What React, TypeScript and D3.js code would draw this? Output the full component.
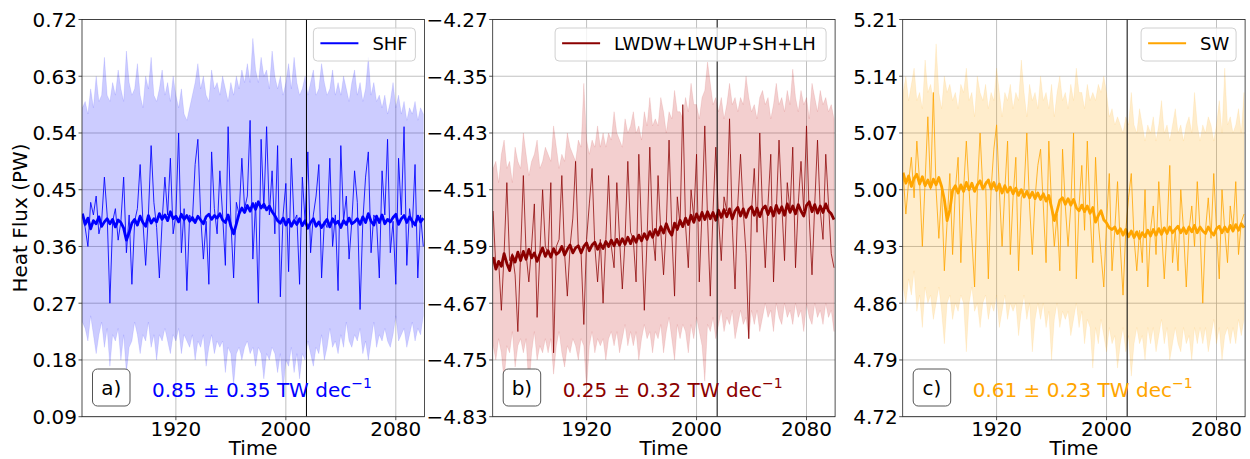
import React from 'react';
import * as d3 from 'd3';

// ---------------- DATA ----------------
const YEAR0 = 1852;
const YEAR_STEP = 2;
const xTicks = [1920, 2000, 2080];
const markerYear = 2015;

const shfTicks = [0.09, 0.18, 0.27, 0.36, 0.45, 0.54, 0.63, 0.72];
const lwTicks = [-4.83, -4.75, -4.67, -4.59, -4.51, -4.43, -4.35, -4.27];
const swTicks = [4.72, 4.79, 4.86, 4.93, 5.0, 5.07, 5.14, 5.21];

const shfMean = [
  0.412, 0.395, 0.405, 0.388, 0.401, 0.396, 0.407, 0.392, 0.399, 0.404,
  0.396, 0.403, 0.391, 0.402, 0.398, 0.389, 0.37, 0.382, 0.397, 0.403,
  0.394, 0.408, 0.398, 0.392, 0.409, 0.397, 0.404, 0.399, 0.412, 0.403,
  0.41, 0.401, 0.415, 0.404, 0.408, 0.399, 0.411, 0.403, 0.409, 0.4,
  0.406, 0.398, 0.408, 0.402, 0.396, 0.407, 0.411, 0.403, 0.409, 0.405,
  0.412, 0.402, 0.398, 0.41, 0.392, 0.38, 0.396, 0.412, 0.421, 0.414,
  0.425, 0.416, 0.428, 0.419, 0.431, 0.421, 0.427, 0.418, 0.424, 0.415,
  0.409, 0.401, 0.397, 0.405, 0.394, 0.403, 0.392, 0.401, 0.395, 0.404,
  0.393, 0.401, 0.389, 0.398, 0.404, 0.392, 0.399, 0.39, 0.397, 0.403,
  0.391, 0.404, 0.396, 0.4, 0.39, 0.401, 0.395, 0.405, 0.396, 0.399,
  0.404, 0.395, 0.407, 0.398, 0.412, 0.4, 0.394, 0.408, 0.398, 0.41,
  0.396, 0.403, 0.399, 0.406, 0.411, 0.395, 0.404, 0.409, 0.398, 0.407,
  0.4, 0.394, 0.408, 0.399, 0.405,
];
const shfMember = [
  0.41, 0.39, 0.36, 0.43, 0.41, 0.44, 0.38, 0.4, 0.47, 0.41,
  0.27, 0.4, 0.42, 0.37, 0.4, 0.47, 0.35, 0.41, 0.3, 0.4,
  0.42, 0.49, 0.4, 0.33, 0.41, 0.52, 0.43, 0.39, 0.31, 0.4,
  0.47, 0.41, 0.5, 0.38, 0.41, 0.54, 0.35, 0.42, 0.29, 0.41,
  0.4, 0.49, 0.53, 0.41, 0.34, 0.4, 0.3, 0.51, 0.42, 0.38,
  0.48, 0.41, 0.33, 0.55, 0.4, 0.31, 0.43, 0.41, 0.5, 0.42,
  0.44, 0.56, 0.34, 0.43, 0.27, 0.53, 0.42, 0.55, 0.41, 0.48,
  0.38, 0.52, 0.28, 0.41, 0.46, 0.32, 0.5, 0.4, 0.41, 0.3,
  0.47, 0.4, 0.51, 0.35, 0.41, 0.44, 0.49, 0.31, 0.4, 0.39,
  0.5, 0.36, 0.41, 0.29, 0.52, 0.4, 0.44, 0.34, 0.4, 0.48,
  0.43, 0.26, 0.4, 0.47, 0.51, 0.35, 0.41, 0.4, 0.31, 0.48,
  0.41, 0.53, 0.35, 0.4, 0.3, 0.5, 0.41, 0.55, 0.33, 0.42,
  0.39, 0.49, 0.31, 0.41, 0.36,
];
const shfUpper = [
  0.58, 0.59, 0.57, 0.61, 0.58, 0.63, 0.59, 0.6, 0.66, 0.6,
  0.59, 0.62, 0.6, 0.64, 0.61, 0.59, 0.67, 0.62, 0.6, 0.61,
  0.65, 0.6, 0.58, 0.63, 0.61, 0.66, 0.6, 0.59, 0.61, 0.64,
  0.6, 0.62, 0.59, 0.63, 0.6, 0.58, 0.61, 0.57, 0.56, 0.58,
  0.6, 0.62, 0.65, 0.61, 0.63, 0.6, 0.59, 0.64, 0.61, 0.62,
  0.6, 0.63, 0.61, 0.59, 0.62, 0.6, 0.63, 0.61, 0.64, 0.62,
  0.65, 0.62, 0.69, 0.64, 0.62, 0.66, 0.63, 0.64, 0.61, 0.67,
  0.63, 0.61, 0.63, 0.6, 0.62, 0.65, 0.61, 0.66, 0.62, 0.6,
  0.61, 0.63, 0.6, 0.62, 0.64, 0.6, 0.61, 0.65, 0.62, 0.6,
  0.61, 0.64, 0.6, 0.62, 0.6, 0.63, 0.61, 0.59, 0.62, 0.64,
  0.6, 0.62, 0.59, 0.61, 0.66, 0.6, 0.62, 0.59, 0.6, 0.58,
  0.6, 0.57, 0.59, 0.62, 0.58, 0.6, 0.57, 0.59, 0.56, 0.58,
  0.57, 0.59, 0.56, 0.58, 0.57,
];
const shfLower = [
  0.24, 0.23, 0.21, 0.25, 0.22, 0.19, 0.22, 0.24, 0.2, 0.23,
  0.17, 0.22, 0.21, 0.23, 0.18, 0.22, 0.16, 0.2, 0.21, 0.24,
  0.22, 0.19, 0.22, 0.21, 0.24, 0.2, 0.22, 0.18, 0.22, 0.21,
  0.23, 0.21, 0.19, 0.22, 0.21, 0.23, 0.19, 0.22, 0.21, 0.2,
  0.22, 0.18, 0.21, 0.2, 0.22, 0.17, 0.2, 0.22, 0.19, 0.21,
  0.2, 0.21, 0.16, 0.2, 0.19, 0.14, 0.19, 0.2, 0.18, 0.2,
  0.21, 0.19, 0.2, 0.17, 0.2, 0.19, 0.15, 0.19, 0.18, 0.2,
  0.19, 0.16, 0.19, 0.13, 0.18, 0.17, 0.2, 0.16, 0.19, 0.15,
  0.19, 0.18, 0.21, 0.19, 0.17, 0.2, 0.19, 0.22, 0.18, 0.2,
  0.23, 0.2, 0.21, 0.19, 0.22, 0.2, 0.24, 0.21, 0.2, 0.22,
  0.21, 0.23, 0.19, 0.21, 0.18, 0.21, 0.24, 0.2, 0.22, 0.21,
  0.23, 0.21, 0.2, 0.22, 0.25, 0.21, 0.22, 0.23, 0.2, 0.22,
  0.24, 0.21, 0.23, 0.22, 0.25,
];

const lwMean = [
  -4.605, -4.622, -4.611, -4.618, -4.6, -4.614, -4.624, -4.603, -4.612, -4.598,
  -4.61, -4.597, -4.608, -4.594, -4.606, -4.599, -4.611, -4.601, -4.592, -4.604,
  -4.596, -4.605, -4.593, -4.601, -4.598, -4.59, -4.602, -4.594, -4.588, -4.599,
  -4.592, -4.589, -4.599, -4.59, -4.585, -4.596, -4.588, -4.584, -4.594, -4.586,
  -4.593, -4.583, -4.59, -4.581, -4.589, -4.58, -4.588, -4.579, -4.587, -4.577,
  -4.586, -4.576, -4.584, -4.574, -4.582, -4.572, -4.58, -4.569, -4.577, -4.566,
  -4.574, -4.562, -4.571, -4.558, -4.568, -4.574, -4.557, -4.566, -4.553, -4.562,
  -4.55, -4.559, -4.546, -4.556, -4.544, -4.553, -4.542, -4.552, -4.541, -4.551,
  -4.542, -4.553, -4.539, -4.549, -4.538, -4.548, -4.537, -4.551, -4.54, -4.535,
  -4.547, -4.537, -4.549, -4.538, -4.534, -4.546, -4.536, -4.548, -4.537, -4.533,
  -4.545, -4.535, -4.547, -4.532, -4.543, -4.534, -4.546, -4.53, -4.542, -4.533,
  -4.544, -4.531, -4.54, -4.547, -4.532, -4.527, -4.541, -4.531, -4.543, -4.533,
  -4.542, -4.53, -4.54, -4.544, -4.552,
];
const lwMember = [
  -4.54, -4.62, -4.61, -4.68, -4.6, -4.5, -4.61, -4.6, -4.63, -4.71,
  -4.6, -4.49, -4.6, -4.64, -4.59, -4.53, -4.69, -4.6, -4.51, -4.59,
  -4.6, -4.5, -4.74, -4.59, -4.58, -4.49, -4.6, -4.66, -4.59, -4.55,
  -4.47, -4.59, -4.6, -4.7, -4.58, -4.53, -4.48, -4.59, -4.64, -4.58,
  -4.67, -4.58, -4.49, -4.59, -4.62, -4.5, -4.58, -4.65, -4.58, -4.47,
  -4.57, -4.58, -4.64, -4.46, -4.57, -4.68, -4.58, -4.45, -4.57, -4.61,
  -4.49, -4.57, -4.63, -4.56, -4.44, -4.57, -4.66, -4.52, -4.56, -4.39,
  -4.56, -4.62, -4.51, -4.55, -4.46, -4.64, -4.54, -4.42, -4.55, -4.66,
  -4.54, -4.45, -4.55, -4.61, -4.52, -4.54, -4.41, -4.56, -4.65, -4.53,
  -4.46, -4.54, -4.6, -4.72, -4.54, -4.48, -4.57, -4.43, -4.54, -4.62,
  -4.53, -4.46, -4.64, -4.54, -4.44, -4.53, -4.61, -4.5, -4.54, -4.45,
  -4.62, -4.53, -4.47, -4.54, -4.42, -4.55, -4.63, -4.53, -4.44, -4.54,
  -4.58, -4.46, -4.53, -4.6, -4.62,
];
const lwUpper = [
  -4.48, -4.47, -4.5, -4.46, -4.44, -4.48, -4.47, -4.5, -4.45, -4.47,
  -4.48, -4.43, -4.46, -4.49, -4.47, -4.46, -4.44, -4.48, -4.47, -4.45,
  -4.46, -4.47, -4.42, -4.45, -4.48, -4.46, -4.47, -4.43, -4.45, -4.46,
  -4.47, -4.44, -4.45, -4.36, -4.44, -4.46, -4.44, -4.45, -4.42, -4.45,
  -4.43, -4.45, -4.43, -4.44, -4.4, -4.43, -4.44, -4.45, -4.41, -4.43,
  -4.42, -4.4, -4.43, -4.42, -4.44, -4.4, -4.42, -4.38, -4.42, -4.41,
  -4.42, -4.38, -4.4, -4.43, -4.4, -4.41, -4.37, -4.4, -4.4, -4.41,
  -4.38, -4.4, -4.36, -4.39, -4.39, -4.41, -4.38, -4.37, -4.33, -4.36,
  -4.39, -4.38, -4.4, -4.38, -4.41, -4.39, -4.36, -4.39, -4.38, -4.4,
  -4.38, -4.39, -4.35, -4.38, -4.4, -4.39, -4.41, -4.38, -4.37, -4.39,
  -4.38, -4.41, -4.39, -4.36, -4.39, -4.38, -4.4, -4.37, -4.39, -4.34,
  -4.38, -4.4, -4.37, -4.39, -4.38, -4.41, -4.36, -4.38, -4.4, -4.37,
  -4.39, -4.38, -4.4, -4.39, -4.41,
];
const lwLower = [
  -4.73, -4.75, -4.72, -4.74, -4.78, -4.73, -4.74, -4.71, -4.76, -4.73,
  -4.72, -4.74, -4.72, -4.79, -4.74, -4.71, -4.75, -4.73, -4.74, -4.72,
  -4.74, -4.72, -4.77, -4.73, -4.71, -4.74, -4.76, -4.73, -4.74, -4.72,
  -4.73, -4.75, -4.72, -4.73, -4.79, -4.73, -4.71, -4.74, -4.72, -4.73,
  -4.72, -4.75, -4.72, -4.71, -4.73, -4.71, -4.74, -4.72, -4.7, -4.73,
  -4.71, -4.73, -4.71, -4.75, -4.72, -4.7, -4.72, -4.71, -4.74, -4.71,
  -4.72, -4.7, -4.74, -4.71, -4.69, -4.72, -4.75, -4.7, -4.72, -4.7,
  -4.71, -4.74, -4.7, -4.72, -4.69, -4.71, -4.73, -4.78, -4.7, -4.71,
  -4.69, -4.72, -4.7, -4.68, -4.71, -4.69, -4.7, -4.68, -4.72, -4.7,
  -4.68, -4.7, -4.69, -4.72, -4.68, -4.7, -4.68, -4.71, -4.69, -4.67,
  -4.69, -4.68, -4.71, -4.67, -4.69, -4.7, -4.67, -4.69, -4.68, -4.7,
  -4.67, -4.69, -4.68, -4.71, -4.67, -4.69, -4.7, -4.67, -4.69, -4.68,
  -4.7, -4.67, -4.69, -4.68, -4.71,
];

const swMean = [
  5.021, 5.008, 5.017, 5.004, 5.014, 5.019, 5.007, 5.016, 5.005, 5.012,
  5.003, 5.013, 5.006, 5.015, 5.004, 4.988, 4.962, 4.975, 4.999, 5.005,
  4.996, 5.006, 4.998, 5.009, 5.0, 5.008, 4.998, 5.006, 5.011, 5.001,
  5.007, 5.012, 5.001, 5.009, 4.999, 5.007, 4.996, 5.005, 4.997, 5.003,
  4.995, 5.002, 4.993, 5.0, 4.991, 4.998, 4.99, 4.997, 4.989, 4.996,
  4.988, 4.995, 4.986, 4.993, 4.978, 4.962, 4.974, 4.987, 4.99, 4.982,
  4.989, 4.981, 4.988, 4.978, 4.974, 4.981, 4.973, 4.98, 4.971, 4.978,
  4.96, 4.968, 4.974, 4.963, 4.959, 4.953, 4.951, 4.954, 4.946, 4.952,
  4.944, 4.951, 4.942, 4.949, 4.941, 4.948, 4.94, 4.947, 4.942, 4.95,
  4.943, 4.951, 4.944, 4.952, 4.945, 4.953, 4.946, 4.954, 4.947, 4.951,
  4.955, 4.947, 4.953, 4.946, 4.954, 4.948, 4.956, 4.947, 4.954, 4.949,
  4.946, 4.954, 4.948, 4.944, 4.952, 4.955, 4.947, 4.954, 4.948, 4.956,
  4.949, 4.957, 4.95, 4.958, 4.953,
];
const swMember = [
  5.02, 4.97, 5.01, 5.04, 4.99, 5.06, 5.01, 4.93, 5.01, 5.09,
  5.0, 5.12, 5.0, 4.94, 5.0, 4.9, 4.96, 5.02, 4.92, 5.0,
  5.04, 4.91, 5.0, 5.06, 5.0, 4.94, 4.88, 5.0, 5.07, 5.0,
  5.01, 4.89, 5.0, 5.05, 5.08, 5.0, 4.93, 5.0, 5.06, 4.92,
  4.99, 5.04, 4.9, 4.99, 5.0, 5.07, 4.98, 4.92, 4.99, 5.03,
  5.05, 4.98, 4.91, 5.06, 4.98, 4.93, 4.97, 4.9, 5.05, 4.98,
  4.93, 4.98, 5.07, 4.89, 4.98, 5.03, 4.95, 5.06, 4.97, 4.91,
  5.04, 4.96, 4.92, 4.88, 4.96, 5.02, 4.9, 4.95, 5.01, 4.93,
  4.87, 4.95, 4.99, 5.02, 4.94, 4.9, 4.95, 4.91, 5.0, 4.88,
  4.95, 4.98, 4.92, 5.01, 4.95, 4.89, 4.95, 5.03, 4.91, 4.95,
  4.9, 5.0, 4.95, 4.88, 4.95, 4.98, 4.93, 5.01, 4.95, 4.86,
  4.95, 4.99, 4.94, 5.02, 4.95, 4.89, 5.0, 4.95, 4.91, 4.98,
  4.95, 5.01, 4.92, 4.96, 4.97,
];
const swUpper = [
  5.12, 5.14, 5.11, 5.13, 5.15, 5.11, 5.12, 5.1, 5.16, 5.12,
  5.13, 5.11, 5.18, 5.12, 5.1, 5.14, 5.12, 5.13, 5.11, 5.12,
  5.1, 5.13, 5.12, 5.15, 5.11, 5.12, 5.09, 5.14, 5.12, 5.11,
  5.13, 5.1, 5.12, 5.11, 5.15, 5.12, 5.09, 5.12, 5.11, 5.13,
  5.1, 5.12, 5.11, 5.16, 5.12, 5.09, 5.13, 5.11, 5.12, 5.1,
  5.14, 5.11, 5.12, 5.1, 5.13, 5.09, 5.12, 5.14, 5.11, 5.12,
  5.1, 5.13, 5.11, 5.15, 5.12, 5.12, 5.1, 5.13, 5.11, 5.12,
  5.11, 5.13, 5.12, 5.14, 5.12, 5.09, 5.1, 5.08, 5.09, 5.08,
  5.07, 5.09, 5.08, 5.12, 5.08, 5.07, 5.1, 5.08, 5.06, 5.08,
  5.07, 5.09, 5.06, 5.08, 5.11, 5.07, 5.08, 5.06, 5.08, 5.1,
  5.07, 5.08, 5.06, 5.08, 5.09, 5.07, 5.12, 5.08, 5.06, 5.08,
  5.07, 5.09, 5.08, 5.06, 5.08, 5.11, 5.07, 5.15, 5.08, 5.09,
  5.07, 5.08, 5.1, 5.07, 5.12,
];
const swLower = [
  4.88, 4.86, 4.89, 4.87, 4.9, 4.85, 4.87, 4.83, 4.88, 4.86,
  4.87, 4.84, 4.86, 4.88, 4.85, 4.81, 4.86, 4.87, 4.84, 4.86,
  4.85, 4.87, 4.86, 4.8, 4.86, 4.88, 4.85, 4.86, 4.83, 4.86,
  4.87, 4.84, 4.86, 4.85, 4.87, 4.83, 4.85, 4.87, 4.84, 4.86,
  4.85, 4.86, 4.82, 4.85, 4.87, 4.84, 4.86, 4.8, 4.84, 4.86,
  4.84, 4.86, 4.83, 4.85, 4.79, 4.84, 4.86, 4.83, 4.85, 4.84,
  4.85, 4.82, 4.84, 4.86, 4.83, 4.85, 4.81, 4.84, 4.83, 4.78,
  4.83, 4.81, 4.84, 4.82, 4.8, 4.83, 4.81, 4.82, 4.78, 4.81,
  4.83, 4.8, 4.82, 4.77, 4.81, 4.83, 4.81, 4.82, 4.79, 4.83,
  4.81, 4.83, 4.8, 4.82, 4.84, 4.81, 4.83, 4.79, 4.81, 4.83,
  4.81, 4.8, 4.83, 4.81, 4.82, 4.79, 4.83, 4.81, 4.83, 4.81,
  4.83, 4.8, 4.82, 4.84, 4.81, 4.83, 4.79, 4.82, 4.83, 4.81,
  4.83, 4.81, 4.84, 4.82, 4.84,
];

const years = shfMean.map((_, i) => YEAR0 + YEAR_STEP * i);

// ---------------- LAYOUT ----------------
const W = 1250;
const H = 459;
const TOP = 19.5;
const BOTTOM = 416.7;
const PW = 342.4;
const X_DOMAIN: [number, number] = [1851.7, 2100.8];
const FONT = "'DejaVu Sans', sans-serif";

type PanelDef = {
  tag: string;
  x0: number;
  color: string;
  bandColor: string;
  bandOpacity: number;
  label: string;
  legendW: number;
  trend: string;
  ticks: number[];
  mean: number[];
  member: number[];
  upper: number[];
  lower: number[];
  memberOpacity: number;
};

const panels: PanelDef[] = [
  { tag: 'a)', x0: 82, color: '#0000ff', bandColor: '#0000ff', bandOpacity: 0.2, label: 'SHF', legendW: 102,
    trend: '0.85 ± 0.35 TW dec', ticks: shfTicks, mean: shfMean, member: shfMember, upper: shfUpper, lower: shfLower,
    memberOpacity: 0.85 },
  { tag: 'b)', x0: 492.7, color: '#8b0000', bandColor: '#c00000', bandOpacity: 0.19, label: 'LWDW+LWUP+SH+LH', legendW: 271,
    trend: '0.25 ± 0.32 TW dec', ticks: lwTicks, mean: lwMean, member: lwMember, upper: lwUpper, lower: lwLower,
    memberOpacity: 0.75 },
  { tag: 'c)', x0: 902.7, color: '#ffa500', bandColor: '#ffa500', bandOpacity: 0.2, label: 'SW', legendW: 95,
    trend: '0.61 ± 0.23 TW dec', ticks: swTicks, mean: swMean, member: swMember, upper: swUpper, lower: swLower,
    memberOpacity: 0.8 },
];

const fmt = (v: number) => (v < 0 ? '\u2212' : '') + Math.abs(v).toFixed(2);

function Panel({ p, idx }: { p: PanelDef; idx: number }) {
  const x = d3.scaleLinear().domain(X_DOMAIN).range([p.x0, p.x0 + PW]);
  const y = d3.scaleLinear().domain([p.ticks[0], p.ticks[p.ticks.length - 1]]).range([BOTTOM, TOP]);
  const area = d3.area<number>()
    .x((_, i) => x(years[i]))
    .y0((_, i) => y(p.lower[i]))
    .y1((_, i) => y(p.upper[i]));
  const line = d3.line<number>().x((_, i) => x(years[i])).y((d) => y(d));
  const clipId = `clip-${idx}`;
  const x1 = p.x0 + PW;
  const legX = x1 - 9 - p.legendW;
  const legY = 28;
  return (
    <g>
      <defs>
        <clipPath id={clipId}>
          <rect x={p.x0} y={TOP} width={PW} height={BOTTOM - TOP} />
        </clipPath>
      </defs>
      {p.ticks.map((t) => (
        <line key={'gy' + t} x1={p.x0} x2={x1} y1={y(t)} y2={y(t)} stroke="#b0b0b0" strokeWidth={0.8} />
      ))}
      {xTicks.map((t) => (
        <line key={'gx' + t} x1={x(t)} x2={x(t)} y1={TOP} y2={BOTTOM} stroke="#b0b0b0" strokeWidth={0.8} />
      ))}
      <g clipPath={`url(#${clipId})`}>
        <path d={area(p.mean) || ''} fill={p.bandColor} fillOpacity={p.bandOpacity} stroke={p.bandColor}
          strokeOpacity={0.12} strokeWidth={0.8} strokeLinejoin="round" />
        <path d={line(p.member) || ''} fill="none" stroke={p.color} strokeOpacity={p.memberOpacity} strokeWidth={1}
          strokeLinejoin="round" />
        <path d={line(p.mean) || ''} fill="none" stroke={p.color} strokeWidth={2.8} strokeLinejoin="round" />
        <line x1={x(markerYear)} x2={x(markerYear)} y1={TOP} y2={BOTTOM} stroke="#000" strokeWidth={1} />
      </g>
      <rect x={p.x0} y={TOP} width={PW} height={BOTTOM - TOP} fill="none" stroke="#222" strokeWidth={0.8} />
      {p.ticks.map((t) => (
        <g key={'ty' + t}>
          <line x1={p.x0 - 3.5} x2={p.x0} y1={y(t)} y2={y(t)} stroke="#222" strokeWidth={0.8} />
          <text x={p.x0 - 5} y={y(t) + 7.3} textAnchor="end" fontSize={20} fontFamily={FONT} fill="#000">
            {fmt(t)}
          </text>
        </g>
      ))}
      {xTicks.map((t) => (
        <g key={'tx' + t}>
          <line x1={x(t)} x2={x(t)} y1={BOTTOM} y2={BOTTOM + 3.5} stroke="#222" strokeWidth={0.8} />
          <text x={x(t)} y={436.4} textAnchor="middle" fontSize={20} fontFamily={FONT} fill="#000">
            {t}
          </text>
        </g>
      ))}
      <text x={p.x0 + PW / 2} y={455} textAnchor="middle" fontSize={20} fontFamily={FONT} fill="#000">
        Time
      </text>
      <rect x={legX} y={legY} width={p.legendW} height={33} rx={4} fill="#fff" fillOpacity={0.8} stroke="#d0d0d0"
        strokeWidth={1} />
      <line x1={legX + 7} x2={legX + 45} y1={legY + 15.3} y2={legY + 15.3} stroke={p.color} strokeWidth={2} />
      <text x={legX + 59} y={legY + 22} fontSize={18} fontFamily={FONT} fill="#000">
        {p.label}
      </text>
      <rect x={p.x0 + 10.5} y={369} width={37.5} height={37} rx={5} fill="#fff" stroke="#555" strokeWidth={1} />
      <text x={p.x0 + 29.2} y={394.5} textAnchor="middle" fontSize={20} fontFamily={FONT} fill="#000">
        {p.tag}
      </text>
      <text x={p.x0 + 70} y={396.5} fontSize={20} fontFamily={FONT} fill={p.color}>
        {p.trend}
        <tspan dy={-8.5} fontSize={14}>{'\u22121'}</tspan>
      </text>
    </g>
  );
}

export default function App() {
  return (
    <svg width={W} height={H} style={{ position: 'absolute', left: 0, top: 0, background: '#fff' }}>
      <rect x={0} y={0} width={W} height={H} fill="#fff" />
      {panels.map((p, i) => (
        <Panel key={p.tag} p={p} idx={i} />
      ))}
      <text transform="translate(20,218) rotate(-90)" textAnchor="middle" y={7} fontSize={20} fontFamily={FONT}
        fill="#000">
        Heat Flux (PW)
      </text>
    </svg>
  );
}
